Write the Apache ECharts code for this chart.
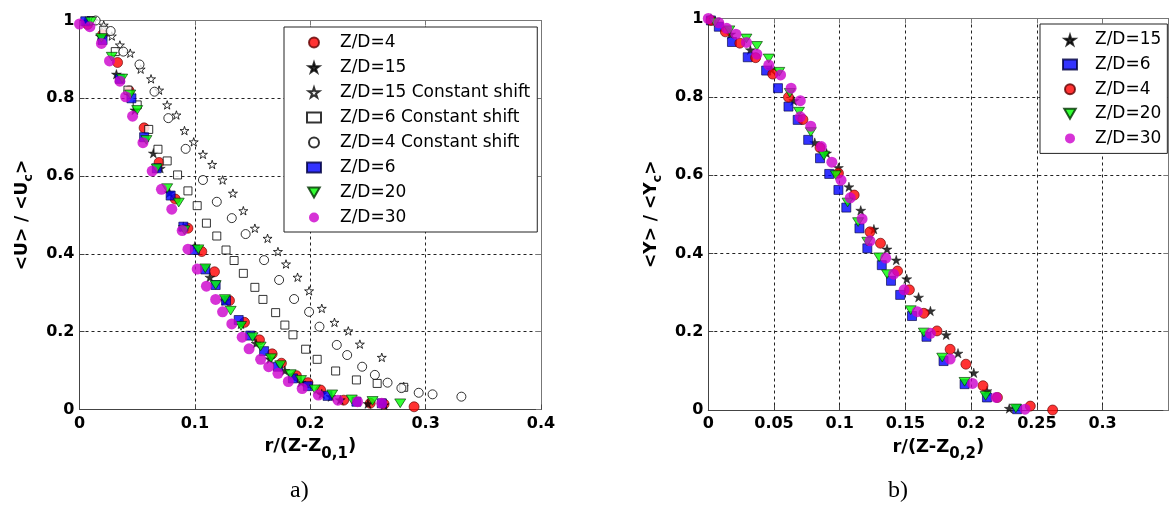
<!DOCTYPE html>
<html>
<head>
<meta charset="utf-8">
<script src="https://cdn.jsdelivr.net/npm/echarts@6/dist/echarts.min.js"></script>
<style>
html,body{margin:0;padding:0;background:#fff;}
#c{width:1170px;height:512px;}
</style>
</head>
<body>
<div id="c"></div>
<script>
// ---------- Data: panel a) ----------
const aNames = ['Z/D=4','Z/D=15','Z/D=15 Constant shift','Z/D=6 Constant shift','Z/D=4 Constant shift','Z/D=6','Z/D=20','Z/D=30'];
const aXTicks = [0,0.1,0.2,0.3,0.4];
const aYTicks = [0,0.2,0.4,0.6,0.8,1];

const aZD4 = [[0.007,0.99],[0.020,0.964],[0.033,0.892],[0.043,0.819],[0.056,0.724],[0.069,0.635],[0.083,0.541],[0.094,0.466],[0.106,0.406],[0.117,0.354],[0.130,0.280],[0.143,0.224],[0.156,0.179],[0.167,0.143],[0.175,0.119],[0.188,0.087],[0.198,0.069],[0.209,0.050],[0.229,0.024],[0.252,0.016],[0.264,0.014],[0.290,0.007]];
const aZD15 = [[0.005,0.998],[0.018,0.96],[0.032,0.862],[0.048,0.77],[0.064,0.659],[0.070,0.62],[0.078,0.557],[0.090,0.47],[0.100,0.42],[0.113,0.34],[0.126,0.28],[0.140,0.22],[0.153,0.17],[0.165,0.13],[0.178,0.10],[0.192,0.07],[0.210,0.04],[0.218,0.033],[0.226,0.025],[0.250,0.015],[0.264,0.012]];
const aZD15cs = [[0.012,1.0],[0.021,0.988],[0.028,0.960],[0.035,0.937],[0.044,0.916],[0.053,0.875],[0.062,0.850],[0.069,0.821],[0.076,0.783],[0.084,0.757],[0.091,0.717],[0.099,0.688],[0.107,0.656],[0.115,0.630],[0.124,0.590],[0.133,0.556],[0.142,0.511],[0.152,0.466],[0.163,0.440],[0.172,0.406],[0.179,0.374],[0.189,0.340],[0.199,0.305],[0.210,0.260],[0.221,0.224],[0.233,0.202],[0.243,0.168],[0.262,0.134],[0.281,0.059]];
const aZD6cs = [[0.010,1.0],[0.021,0.975],[0.031,0.92],[0.042,0.821],[0.050,0.783],[0.060,0.72],[0.068,0.669],[0.076,0.639],[0.085,0.603],[0.094,0.562],[0.102,0.524],[0.110,0.479],[0.119,0.446],[0.127,0.410],[0.134,0.383],[0.142,0.350],[0.152,0.314],[0.159,0.283],[0.170,0.249],[0.178,0.217],[0.185,0.192],[0.196,0.155],[0.206,0.129],[0.222,0.099],[0.240,0.076],[0.258,0.067],[0.281,0.057]];
const aZD4cs = [[0.014,1.0],[0.027,0.973],[0.038,0.920],[0.052,0.887],[0.065,0.817],[0.077,0.749],[0.092,0.67],[0.107,0.590],[0.119,0.534],[0.132,0.492],[0.144,0.451],[0.160,0.384],[0.173,0.333],[0.186,0.284],[0.199,0.251],[0.208,0.213],[0.223,0.166],[0.232,0.140],[0.245,0.110],[0.256,0.089],[0.267,0.069],[0.279,0.055],[0.294,0.043],[0.306,0.039],[0.331,0.033]];
const aZD6 = [[0.005,0.998],[0.020,0.95],[0.035,0.85],[0.045,0.80],[0.056,0.70],[0.067,0.62],[0.079,0.55],[0.090,0.47],[0.100,0.41],[0.109,0.36],[0.118,0.32],[0.127,0.28],[0.138,0.23],[0.148,0.19],[0.160,0.15],[0.172,0.11],[0.185,0.08],[0.198,0.06],[0.215,0.035],[0.240,0.02],[0.262,0.016]];
const aZD20 = [[0.010,0.997],[0.019,0.955],[0.028,0.907],[0.037,0.851],[0.044,0.81],[0.050,0.770],[0.058,0.693],[0.067,0.620],[0.076,0.569],[0.086,0.532],[0.091,0.461],[0.103,0.412],[0.109,0.363],[0.118,0.320],[0.126,0.284],[0.131,0.254],[0.140,0.215],[0.150,0.186],[0.157,0.162],[0.166,0.132],[0.174,0.114],[0.183,0.091],[0.192,0.076],[0.204,0.052],[0.219,0.039],[0.236,0.026],[0.254,0.022],[0.278,0.016]];
const aZD30 = [[0.000,0.991],[0.009,0.984],[0.019,0.941],[0.026,0.896],[0.035,0.844],[0.040,0.804],[0.046,0.754],[0.055,0.686],[0.063,0.613],[0.071,0.566],[0.080,0.515],[0.089,0.460],[0.094,0.412],[0.102,0.361],[0.110,0.317],[0.118,0.283],[0.124,0.251],[0.132,0.220],[0.141,0.186],[0.147,0.156],[0.157,0.129],[0.164,0.110],[0.172,0.093],[0.181,0.072],[0.193,0.054],[0.207,0.037],[0.224,0.024],[0.241,0.020],[0.262,0.016]];

// ---------- Data: panel b) ----------
const bNames = ['Z/D=15','Z/D=6','Z/D=4','Z/D=20','Z/D=30'];
const bXTicks = [0,0.05,0.1,0.15,0.2,0.25,0.3];
const bYTicks = [0,0.2,0.4,0.6,0.8,1];

const bZD15 = [[0.002,1.0],[0.017,0.96],[0.032,0.920],[0.048,0.87],[0.065,0.79],[0.081,0.683],[0.090,0.656],[0.099,0.619],[0.107,0.570],[0.116,0.510],[0.126,0.462],[0.136,0.411],[0.143,0.383],[0.151,0.335],[0.160,0.288],[0.169,0.253],[0.181,0.192],[0.190,0.145],[0.202,0.095],[0.212,0.049],[0.229,0.004]];
const bZD6 = [[0.002,0.995],[0.008,0.979],[0.018,0.94],[0.030,0.901],[0.044,0.867],[0.053,0.822],[0.061,0.775],[0.068,0.741],[0.076,0.690],[0.085,0.643],[0.092,0.603],[0.099,0.562],[0.105,0.517],[0.115,0.464],[0.121,0.413],[0.132,0.370],[0.139,0.330],[0.146,0.294],[0.155,0.240],[0.166,0.187],[0.179,0.125],[0.195,0.066],[0.212,0.032],[0.235,0.002]];
const bZD4 = [[0.002,0.995],[0.013,0.966],[0.024,0.937],[0.036,0.90],[0.049,0.858],[0.061,0.799],[0.072,0.742],[0.085,0.67],[0.099,0.605],[0.111,0.549],[0.123,0.455],[0.131,0.426],[0.144,0.355],[0.153,0.307],[0.164,0.247],[0.174,0.202],[0.184,0.155],[0.196,0.117],[0.209,0.062],[0.220,0.032],[0.245,0.010],[0.262,0.0]];
const bZD20 = [[0.005,0.99],[0.016,0.97],[0.029,0.949],[0.037,0.930],[0.046,0.898],[0.054,0.864],[0.062,0.81],[0.069,0.762],[0.078,0.71],[0.088,0.65],[0.097,0.60],[0.106,0.53],[0.114,0.48],[0.121,0.43],[0.130,0.39],[0.136,0.347],[0.154,0.255],[0.164,0.198],[0.178,0.134],[0.195,0.072],[0.211,0.036],[0.234,0.004]];
const bZD30 = [[0.000,1.0],[0.008,0.989],[0.014,0.975],[0.021,0.960],[0.029,0.939],[0.037,0.909],[0.046,0.881],[0.055,0.856],[0.063,0.822],[0.070,0.790],[0.070,0.749],[0.078,0.725],[0.086,0.673],[0.094,0.633],[0.101,0.587],[0.108,0.542],[0.117,0.488],[0.123,0.432],[0.135,0.388],[0.141,0.347],[0.149,0.307],[0.159,0.251],[0.169,0.196],[0.184,0.130],[0.201,0.068],[0.219,0.032],[0.241,0.002]];

// ---------- Styles ----------
const STAR = 'path://M50,0 L61,35 L98,35 L68,57 L79,91 L50,70 L21,91 L32,57 L2,35 L39,35 Z';
const TRI_DOWN = 'path://M0,0 L100,0 L50,87 Z';
const styles = {
  'red':   {symbol:'circle', symbolSize:10, itemStyle:{color:'#ff0000', borderColor:'#600000', borderWidth:0.8}},
  'star':  {symbol:STAR, symbolSize:10, itemStyle:{color:'#000000', borderColor:'#000', borderWidth:0.5}},
  'ostar': {symbol:STAR, symbolSize:9, itemStyle:{color:'#ffffff', borderColor:'#000', borderWidth:1}},
  'osq':   {symbol:'rect', symbolSize:8, itemStyle:{color:'#ffffff', borderColor:'#000', borderWidth:1}},
  'ocirc': {symbol:'circle', symbolSize:9, itemStyle:{color:'#ffffff', borderColor:'#000', borderWidth:1}},
  'blue':  {symbol:'rect', symbolSize:9, itemStyle:{color:'#0000ff', borderColor:'#000040', borderWidth:0.8}},
  'green': {symbol:TRI_DOWN, symbolSize:[11,10], itemStyle:{color:'#00ff00', borderColor:'#003000', borderWidth:0.8}},
  'mag':   {symbol:'circle', symbolSize:11, itemStyle:{color:'#cc00cc', borderColor:'#cc00cc', borderWidth:0}}
};

function mk(name, data, st, idx) {
  return Object.assign({type:'scatter', name:name, data:data, xAxisIndex:idx, yAxisIndex:idx, z:2, animation:false, symbolKeepAspect:true}, JSON.parse(JSON.stringify(st)));
}

const series = [
  mk(aNames[0], aZD4, styles.red, 0),
  mk(aNames[1], aZD15, styles.star, 0),
  mk(aNames[2], aZD15cs, styles.ostar, 0),
  mk(aNames[3], aZD6cs, styles.osq, 0),
  mk(aNames[4], aZD4cs, styles.ocirc, 0),
  mk(aNames[5], aZD6, styles.blue, 0),
  mk(aNames[6], aZD20, styles.green, 0),
  mk(aNames[7], aZD30, styles.mag, 0),
  mk(bNames[0], bZD15, styles.star, 1),
  mk(bNames[1], bZD6, styles.blue, 1),
  mk(bNames[2], bZD4, styles.red, 1),
  mk(bNames[3], bZD20, styles.green, 1),
  mk(bNames[4], bZD30, styles.mag, 1)
];
series.forEach((s,i)=>{ s.id = 's'+i; });
// keep the two legends independent (same labels appear in both panels)
for (let i = 8; i < 13; i++) series[i].name = series[i].name + '\u200b';

const FONT = '"DejaVu Sans", "Liberation Sans", Arial, sans-serif';
const tickFont = {color:'#000', fontFamily:FONT, fontWeight:'bold', fontSize:16};
const axisLineC = '#444';
const gridLine = {show:true, lineStyle:{color:'#222', type:[3,3], width:1}};

function mainX(idx, ticks, nameRich) {
  return {type:'value', gridIndex:idx, position:'bottom', min:ticks[0], max: idx===0 ? 0.4 : 0.35,
    interval: ticks[1]-ticks[0],
    axisLine:{show:true, onZero:false, lineStyle:{color:axisLineC, width:1}},
    axisTick:{show:true, inside:true, length:5, lineStyle:{color:axisLineC}},
    axisLabel:Object.assign({margin:6, showMaxLabel: idx===0}, tickFont),
    splitLine:gridLine,
    name:nameRich, nameLocation:'middle', nameGap:22,
    nameTextStyle:{color:'#000', fontFamily:FONT, fontWeight:'bold', fontSize:18,
      rich:{n:{fontFamily:FONT, fontWeight:'bold', fontSize:18, color:'#000'},
            s:{fontFamily:FONT, fontWeight:'bold', fontSize:15, color:'#000', padding:[15,0,0,0]}}}
  };
}
function topX(idx, ticks) {
  return {type:'value', gridIndex:idx, position:'top', min:ticks[0], max: idx===0 ? 0.4 : 0.35,
    interval: ticks[1]-ticks[0],
    axisLine:{show:true, onZero:false, lineStyle:{color:'#777', width:1}},
    axisTick:{show:true, inside:true, length:5, lineStyle:{color:'#777'}},
    axisLabel:{show:false}, splitLine:{show:false}};
}
function mainY(idx, nameRich) {
  return {type:'value', gridIndex:idx, position:'left', min:0, max:1, interval:0.2,
    axisLine:{show:true, onZero:false, lineStyle:{color:axisLineC, width:1}},
    axisTick:{show:true, inside:true, length:5, lineStyle:{color:axisLineC}},
    axisLabel:Object.assign({margin:5}, tickFont),
    splitLine:gridLine,
    name:nameRich, nameLocation:'middle', nameGap:44, nameRotate:90,
    nameTextStyle:{color:'#000', fontFamily:FONT, fontWeight:'bold', fontSize:17,
      rich:{n:{fontFamily:FONT, fontWeight:'bold', fontSize:17, color:'#000'},
            s:{fontFamily:FONT, fontWeight:'bold', fontSize:13, color:'#000', padding:[12,0,0,0]}}}
  };
}
function rightY(idx) {
  return {type:'value', gridIndex:idx, position:'right', min:0, max:1, interval:0.2,
    axisLine:{show:true, onZero:false, lineStyle:{color:'#777', width:1}},
    axisTick:{show:true, inside:true, length:5, lineStyle:{color:'#777'}},
    axisLabel:{show:false}, splitLine:{show:false}};
}

const legendText = {color:'#000', fontFamily:FONT, fontSize:17};
const option = {
  backgroundColor:'#fff',
  animation:false,
  grid:[
    {left:79.5, top:20.5, width:461.5, height:389},
    {left:708.3, top:18.5, width:460, height:391.5}
  ],
  xAxis:[ mainX(0, aXTicks, '{n|r/(Z-Z}{s|0,1}{n|)}'), mainX(1, bXTicks, '{n|r/(Z-Z}{s|0,2}{n|)}'), topX(0, aXTicks), topX(1, bXTicks) ],
  yAxis:[ mainY(0, '{n|<U> / <U}{s|c}{n|>}'), mainY(1, '{n|<Y> / <Y}{s|c}{n|>}'), rightY(0), rightY(1) ],
  legend:[
    {data:series.slice(0,8).map(s=>s.name), orient:'vertical', left:284, top:27,
     itemWidth:14, itemHeight:10, itemGap:8, padding:[7,7,6,22],
     borderColor:'#222', borderWidth:1, backgroundColor:'#fff',
     textStyle:Object.assign({padding:[0,0,0,14]}, legendText), selectedMode:false},
    {data:series.slice(8).map(s=>s.name), orient:'vertical', left:1040, top:24,
     itemWidth:14, itemHeight:10, itemGap:7.6, padding:[7.5,6,6.5,22],
     borderColor:'#222', borderWidth:1, backgroundColor:'#fff',
     textStyle:Object.assign({padding:[0,0,0,13]}, legendText), selectedMode:false}
  ],
  title:[
    {text:'a)', left:285, top:474, textStyle:{fontFamily:'"Liberation Serif", "DejaVu Serif", serif', fontWeight:'normal', fontSize:24, color:'#000'}},
    {text:'b)', left:883, top:474, textStyle:{fontFamily:'"Liberation Serif", "DejaVu Serif", serif', fontWeight:'normal', fontSize:24, color:'#000'}}
  ],
  series:series
};
const chart = echarts.init(document.getElementById('c'), null, {renderer:'canvas'});
chart.setOption(option);
</script>
</body>
</html>
